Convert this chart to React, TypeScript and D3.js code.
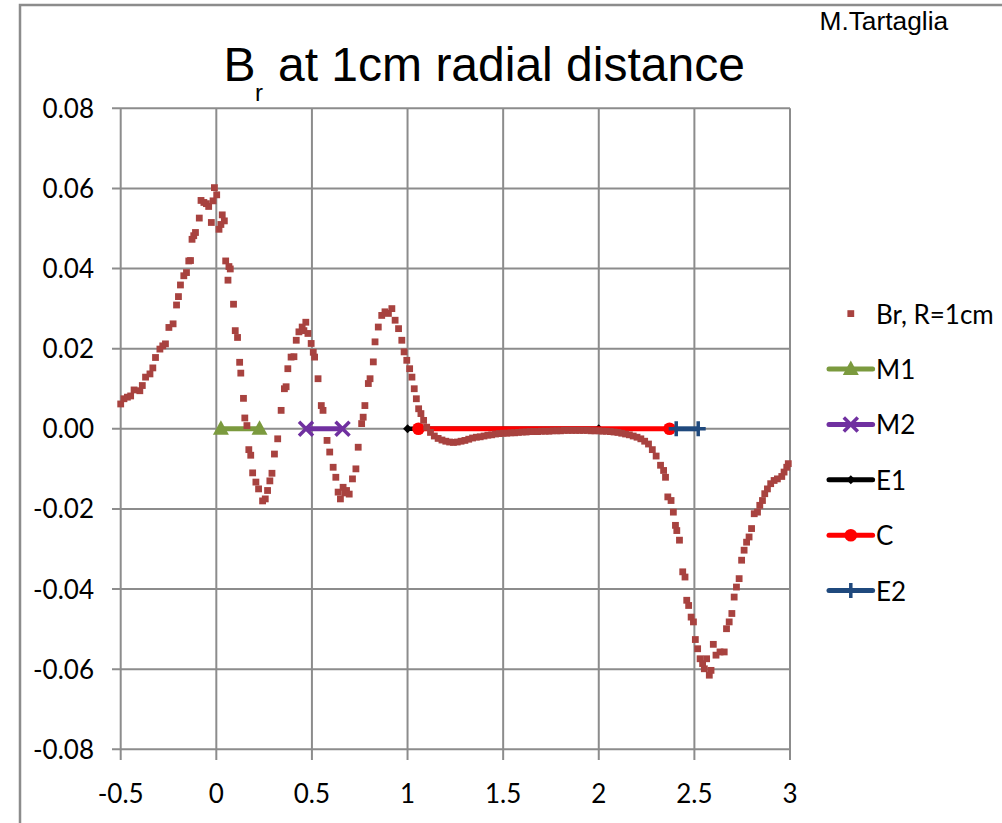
import React from "react";
import * as d3 from "d3";

const titleMain = "B";
const titleSub = "r";
const titleRest = "at 1cm radial distance";
const author = "M.Tartaglia";

const xTicks = [-0.5, 0, 0.5, 1, 1.5, 2, 2.5, 3];
const xTickLabels = ["-0.5", "0", "0.5", "1", "1.5", "2", "2.5", "3"];
const yTicks = [-0.08, -0.06, -0.04, -0.02, 0, 0.02, 0.04, 0.06, 0.08];
const yTickLabels = ["-0.08", "-0.06", "-0.04", "-0.02", "0.00", "0.02", "0.04", "0.06", "0.08"];

// Br, R=1cm scatter (x, Br)
const brData: [number, number][] = [
  [-0.5, 0.0062], [-0.483, 0.0075], [-0.465, 0.0079], [-0.448, 0.0082], [-0.43, 0.0097],
  [-0.4, 0.0095], [-0.387, 0.0108], [-0.37, 0.0129], [-0.347, 0.0137], [-0.332, 0.0152],
  [-0.318, 0.0178], [-0.295, 0.0199], [-0.28, 0.0207], [-0.266, 0.0212], [-0.248, 0.0253],
  [-0.226, 0.0262], [-0.208, 0.0309], [-0.198, 0.033], [-0.1875, 0.0359], [-0.17, 0.0382],
  [-0.156, 0.039], [-0.144, 0.0419], [-0.135, 0.042], [-0.127, 0.0473], [-0.118, 0.0482],
  [-0.109, 0.049], [-0.089, 0.0526], [-0.08, 0.057], [-0.065, 0.0565], [-0.052, 0.0562],
  [-0.04, 0.0555], [-0.026, 0.0515], [-0.017, 0.0569], [-0.01, 0.0602], [0.002, 0.0584],
  [0.014, 0.0498], [0.024, 0.051], [0.031, 0.0534], [0.042, 0.0519], [0.049, 0.0419],
  [0.061, 0.0371], [0.066, 0.0405], [0.073, 0.0399], [0.09, 0.0311], [0.099, 0.0245],
  [0.111, 0.0228], [0.122, 0.0166], [0.128, 0.0139], [0.142, 0.0076], [0.149, 0.0027],
  [0.16, 0.0008], [0.17, -0.0052], [0.18, -0.0066], [0.19, -0.011], [0.207, -0.0133],
  [0.221, -0.015], [0.242, -0.018], [0.256, -0.0175], [0.268, -0.0154], [0.28, -0.013],
  [0.291, -0.0111], [0.304, -0.0063], [0.321, -0.0025], [0.339, 0.0046], [0.356, 0.01],
  [0.365, 0.0105], [0.374, 0.015], [0.391, 0.0179], [0.406, 0.018], [0.418, 0.0221],
  [0.432, 0.0242], [0.449, 0.0254], [0.458, 0.0245], [0.468, 0.0266], [0.479, 0.0238],
  [0.496, 0.0213], [0.507, 0.0191], [0.514, 0.0179], [0.532, 0.0125], [0.549, 0.0058],
  [0.558, 0.0046], [0.579, -0.0029], [0.593, -0.0058], [0.611, -0.0096], [0.625, -0.0121],
  [0.637, -0.0158], [0.649, -0.0175], [0.663, -0.0146], [0.672, -0.016], [0.681, -0.0154],
  [0.695, -0.0163], [0.712, -0.0125], [0.73, -0.01], [0.742, -0.0046], [0.76, 0.0013],
  [0.768, 0.0029], [0.777, 0.0058], [0.795, 0.0113], [0.804, 0.0125], [0.821, 0.0167],
  [0.83, 0.0217], [0.847, 0.0254], [0.865, 0.0283], [0.882, 0.0292], [0.9, 0.0288],
  [0.918, 0.03], [0.935, 0.0271], [0.953, 0.025], [0.97, 0.0221], [0.982, 0.0192],
  [0.996, 0.0171], [1.011, 0.015], [1.023, 0.0129], [1.035, 0.01], [1.046, 0.0075],
  [1.058, 0.005], [1.07, 0.0038], [1.084, 0.0021], [1.1, 0.0004], [1.12, -0.0009],
  [1.14, -0.0018], [1.16, -0.0024], [1.18, -0.0028], [1.2, -0.0031], [1.22, -0.0033],
  [1.24, -0.0034], [1.26, -0.0033], [1.28, -0.0031], [1.3, -0.0029], [1.32, -0.0026],
  [1.34, -0.0023], [1.36, -0.0021], [1.38, -0.002], [1.4, -0.0018], [1.42, -0.0016],
  [1.44, -0.0015], [1.46, -0.0013], [1.48, -0.0012], [1.5, -0.0011], [1.52, -0.0011],
  [1.54, -0.001], [1.56, -0.001], [1.58, -0.0009], [1.6, -0.0008], [1.62, -0.0008],
  [1.64, -0.0007], [1.66, -0.0007], [1.68, -0.0007], [1.7, -0.0006], [1.72, -0.0006],
  [1.74, -0.0006], [1.76, -0.0005], [1.78, -0.0005], [1.8, -0.0005], [1.82, -0.0004],
  [1.84, -0.0004], [1.86, -0.0004], [1.88, -0.0004], [1.9, -0.0004], [1.92, -0.0004],
  [1.94, -0.0004], [1.96, -0.0005], [1.98, -0.0005], [2.0, -0.0005], [2.02, -0.0006],
  [2.04, -0.0006], [2.06, -0.0007], [2.08, -0.0008], [2.1, -0.0009], [2.12, -0.0011],
  [2.14, -0.0013], [2.16, -0.0015], [2.18, -0.0018], [2.2, -0.0021], [2.22, -0.0025],
  [2.24, -0.0031], [2.26, -0.0038], [2.28, -0.0052], [2.3, -0.0068], [2.323, -0.0091],
  [2.339, -0.0104], [2.349, -0.0121], [2.361, -0.017], [2.378, -0.0179], [2.39, -0.0208],
  [2.401, -0.0241], [2.408, -0.0254], [2.422, -0.0278], [2.439, -0.0357], [2.451, -0.037],
  [2.46, -0.0428], [2.47, -0.0441], [2.483, -0.047], [2.495, -0.0482], [2.505, -0.0526],
  [2.517, -0.0549], [2.53, -0.0574], [2.543, -0.0586], [2.552, -0.0599], [2.564, -0.0574],
  [2.578, -0.0615], [2.587, -0.0603], [2.599, -0.0538], [2.613, -0.0565], [2.634, -0.0557],
  [2.656, -0.0557], [2.668, -0.0499], [2.682, -0.0482], [2.696, -0.0461], [2.708, -0.042],
  [2.72, -0.0395], [2.734, -0.0374], [2.747, -0.0328], [2.76, -0.0303], [2.773, -0.0283],
  [2.786, -0.027], [2.799, -0.0249], [2.813, -0.0212], [2.83, -0.0208], [2.842, -0.0191],
  [2.856, -0.0179], [2.868, -0.0162], [2.882, -0.015], [2.899, -0.0137], [2.917, -0.0129],
  [2.934, -0.0125], [2.957, -0.0119], [2.969, -0.0108], [2.983, -0.0096], [2.991, -0.0087],
];

const m1X = [0.024, 0.226];
const m1Y = [0, 0];
const m2X = [0.469, 0.66];
const m2Y = [0, 0];
const e1X = [1.0, 2.0];
const e1Y = [0, 0];
const cX = [1.057, 2.37];
const cY = [0, 0];
const e2X = [2.405, 2.52];
const e2Y = [0, 0];

const legendNames = ["Br, R=1cm", "M1", "M2", "E1", "C", "E2"];

const BR_COLOR = "#a8423f";
const M1_COLOR = "#7b9a3e";
const M2_COLOR = "#7030a0";
const E1_COLOR = "#000000";
const C_COLOR = "#ff0000";
const E2_COLOR = "#1f497d";
const GRID = "#8c8c8c";

const TICK_FONT = "Lato, 'Open Sans', sans-serif";
const TITLE_FONT = "'Liberation Sans', Arial, sans-serif";

type MarkerKind = "square" | "triangle" | "x" | "diamond" | "circle" | "plus";

function Marker({ kind, cx, cy, color }: { kind: MarkerKind; cx: number; cy: number; color: string }) {
  switch (kind) {
    case "square":
      return <rect x={cx - 3.4} y={cy - 3.4} width={6.8} height={6.8} fill={color} />;
    case "triangle":
      return (
        <path
          d={`M${cx},${cy - 8.5} L${cx + 8},${cy + 6} L${cx - 8},${cy + 6} Z`}
          fill={color}
        />
      );
    case "x":
      return (
        <path
          d={`M${cx - 7},${cy - 7} L${cx + 7},${cy + 7} M${cx - 7},${cy + 7} L${cx + 7},${cy - 7}`}
          stroke={color}
          strokeWidth={3.5}
          fill="none"
        />
      );
    case "diamond":
      return (
        <path d={`M${cx},${cy - 4.5} L${cx + 4.5},${cy} L${cx},${cy + 4.5} L${cx - 4.5},${cy} Z`} fill={color} />
      );
    case "circle":
      return <circle cx={cx} cy={cy} r={6.3} fill={color} />;
    case "plus":
      return (
        <path
          d={`M${cx - 7.5},${cy} L${cx + 7.5},${cy} M${cx},${cy - 7.5} L${cx},${cy + 7.5}`}
          stroke={color}
          strokeWidth={3.5}
          fill="none"
        />
      );
  }
}

export default function App() {
  const xs = d3.scaleLinear().domain([-0.5, 3]).range([120.7, 790]);
  const ys = d3.scaleLinear().domain([-0.08, 0.08]).range([749.3, 108.3]);
  const line = d3
    .line<[number, number]>()
    .x((d) => xs(d[0]))
    .y((d) => ys(d[1]));

  const lineSeries = [
    { name: "M1", x: m1X, y: m1Y, color: M1_COLOR, kind: "triangle" as MarkerKind, w: 5 },
    { name: "M2", x: m2X, y: m2Y, color: M2_COLOR, kind: "x" as MarkerKind, w: 5 },
    { name: "E1", x: e1X, y: e1Y, color: E1_COLOR, kind: "diamond" as MarkerKind, w: 4.5 },
    { name: "C", x: cX, y: cY, color: C_COLOR, kind: "circle" as MarkerKind, w: 5 },
    { name: "E2", x: e2X, y: e2Y, color: E2_COLOR, kind: "plus" as MarkerKind, w: 5 },
  ];

  const legendX0 = 829;
  const legendX1 = 872.6;
  const legendY0 = 313.6;
  const legendStep = 55.4;

  return (
    <svg
      width={1002}
      height={823}
      style={{ position: "absolute", left: 0, top: 0, background: "#fff" }}
    >
      <rect x={0} y={0} width={1002} height={823} fill="#fff" />
      <rect x={20} y={5} width={1000} height={840} fill="none" stroke={GRID} strokeWidth={2.5} />

      {/* title */}
      <text x={223.5} y={80.7} fontFamily={TITLE_FONT} fontSize={48} fill="#000">
        {titleMain}
      </text>
      <text x={255} y={100.7} fontFamily={TITLE_FONT} fontSize={24} fill="#000">
        {titleSub}
      </text>
      <text x={278} y={80.7} fontFamily={TITLE_FONT} fontSize={48} fill="#000">
        {titleRest}
      </text>
      <text x={819.5} y={30} fontFamily={TITLE_FONT} fontSize={26.3} fill="#000">
        {author}
      </text>

      {/* gridlines */}
      {yTicks.map((t) => (
        <line key={"gy" + t} x1={112} x2={xs(3)} y1={ys(t)} y2={ys(t)} stroke={GRID} strokeWidth={2} />
      ))}
      {xTicks.map((t) => (
        <line key={"gx" + t} x1={xs(t)} x2={xs(t)} y1={ys(0.08)} y2={760} stroke={GRID} strokeWidth={2} />
      ))}

      {/* tick labels */}
      {yTicks.map((t, i) => (
        <text
          key={"ly" + t}
          x={94}
          y={ys(t) + 9.5}
          textAnchor="end"
          fontFamily={TICK_FONT}
          fontSize={26}
          fill="#000"
        >
          {yTickLabels[i]}
        </text>
      ))}
      {xTicks.map((t, i) => (
        <text
          key={"lx" + t}
          x={xs(t)}
          y={803}
          textAnchor="middle"
          fontFamily={TICK_FONT}
          fontSize={26}
          fill="#000"
        >
          {xTickLabels[i]}
        </text>
      ))}

      {/* line series */}
      {lineSeries.map((s) => {
        const pts = s.x.map((v, i) => [v, s.y[i]] as [number, number]);
        return (
          <g key={s.name}>
            <path d={line(pts) || ""} stroke={s.color} strokeWidth={s.w} fill="none" />
            {pts.map((p, i) => (
              <Marker key={i} kind={s.kind} cx={xs(p[0])} cy={ys(p[1])} color={s.color} />
            ))}
          </g>
        );
      })}

      {/* Br scatter */}
      <g>
        {brData.map((d, i) => (
          <Marker key={i} kind="square" cx={xs(d[0])} cy={ys(d[1])} color={BR_COLOR} />
        ))}
      </g>

      {/* legend */}
      {legendNames.map((name, i) => {
        const cy = legendY0 + i * legendStep;
        const mid = (legendX0 + legendX1) / 2;
        const s = i > 0 ? lineSeries[i - 1] : null;
        return (
          <g key={name}>
            {s ? (
              <>
                <line x1={legendX0} x2={legendX1} y1={cy} y2={cy} stroke={s.color} strokeWidth={5} strokeLinecap="round" />
                <Marker kind={s.kind} cx={mid} cy={cy} color={s.color} />
              </>
            ) : (
              <Marker kind="square" cx={mid} cy={cy} color={BR_COLOR} />
            )}
            <text x={876} y={cy + 10} fontFamily={TICK_FONT} fontSize={26} fill="#000">
              {name}
            </text>
          </g>
        );
      })}
    </svg>
  );
}
